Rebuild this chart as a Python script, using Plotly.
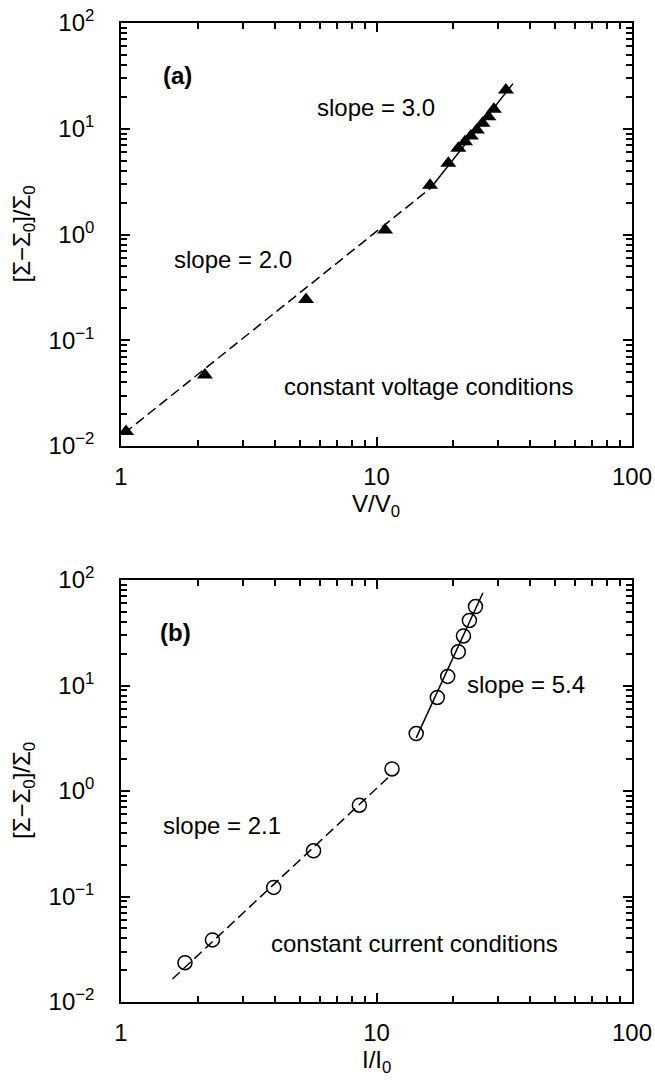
import plotly.graph_objects as go

# ---------------- data ----------------
# panel (a): constant voltage conditions
va_x = [1.046, 2.13, 5.30, 10.8, 16.2, 19.1, 20.9, 22.2, 23.4, 24.7, 26.0, 27.4, 28.8, 32.1]
va_y = [0.0137, 0.0469, 0.243, 1.10, 2.93, 4.71, 6.53, 7.54, 8.54, 9.73, 11.3, 13.0, 15.3, 23.2]
fit_a_dash_x = [1.03, 16.3]
fit_a_dash_y = [0.0132, 2.75]
fit_a_solid_x = [16.3, 34.2]
fit_a_solid_y = [2.75, 26.7]

# panel (b): constant current conditions
ic_x = [1.78, 2.28, 3.96, 5.67, 8.57, 11.5, 14.3, 17.3, 19.0, 20.9, 21.9, 23.1, 24.4]
ic_y = [0.0236, 0.0388, 0.122, 0.271, 0.734, 1.62, 3.50, 7.71, 12.2, 20.9, 29.5, 41.4, 56.0]
fit_b_dash_x = [1.59, 11.5]
fit_b_dash_y = [0.0165, 1.45]
fit_b_solid_x = [14.3, 26.1]
fit_b_solid_y = [3.19, 75.7]

x_tickvals = [1, 10, 100]
x_ticktext = ["1", "10", "100"]
y_tickvals = [0.01, 0.1, 1, 10, 100]
y_ticktext = ["10<sup>\u22122</sup>", "10<sup>\u22121</sup>", "10<sup>0</sup>",
              "10<sup>1</sup>", "10<sup>2</sup>"]

FONT = "Liberation Sans, Arial, Helvetica, sans-serif"
W, H = 655, 1080

fig = go.Figure()

# panel (a)
fig.add_trace(go.Scatter(x=fit_a_dash_x, y=fit_a_dash_y, mode="lines",
                         line=dict(color="black", width=1.5, dash="10px,5px"),
                         xaxis="x", yaxis="y", showlegend=False))
fig.add_trace(go.Scatter(x=fit_a_solid_x, y=fit_a_solid_y, mode="lines",
                         line=dict(color="black", width=1.5),
                         xaxis="x", yaxis="y", showlegend=False))
fig.add_trace(go.Scatter(x=va_x, y=va_y, mode="markers",
                         marker=dict(symbol="triangle-up", size=14, color="black"),
                         xaxis="x", yaxis="y", showlegend=False))

# panel (b)
fig.add_trace(go.Scatter(x=fit_b_dash_x, y=fit_b_dash_y, mode="lines",
                         line=dict(color="black", width=1.5, dash="10px,5px"),
                         xaxis="x2", yaxis="y2", showlegend=False))
fig.add_trace(go.Scatter(x=fit_b_solid_x, y=fit_b_solid_y, mode="lines",
                         line=dict(color="black", width=1.5),
                         xaxis="x2", yaxis="y2", showlegend=False))
fig.add_trace(go.Scatter(x=ic_x, y=ic_y, mode="markers",
                         marker=dict(symbol="circle-open", size=14, color="black",
                                     line=dict(width=1.5, color="black")),
                         xaxis="x2", yaxis="y2", showlegend=False))

def ax_common():
    return dict(type="log", showline=True, linewidth=1.6, linecolor="black",
                mirror="ticks", ticks="inside", ticklen=9, tickwidth=1.8,
                tickcolor="black", showgrid=False, zeroline=False,
                tickfont=dict(family=FONT, size=24, color="black"),
                minor=dict(ticks="inside", ticklen=6, tickwidth=1.8,
                           tickcolor="black", dtick="D1", showgrid=False),
                automargin=False, fixedrange=True, tickmode="array")

xd = [121 / W, 632 / W]
top_dom = [1 - 446 / H, 1 - 23 / H]
bot_dom = [1 - 1002 / H, 1 - 580 / H]

xa = ax_common(); xa.update(domain=xd, range=[0, 2], tickvals=x_tickvals,
                            ticktext=x_ticktext, anchor="y", ticklabelstandoff=8)
ya = ax_common(); ya.update(domain=top_dom, range=[-2, 2], tickvals=y_tickvals,
                            ticktext=y_ticktext, anchor="x", ticklabelstandoff=20)
xb = ax_common(); xb.update(domain=xd, range=[0, 2], tickvals=x_tickvals,
                            ticktext=x_ticktext, anchor="y2", ticklabelstandoff=8)
yb = ax_common(); yb.update(domain=bot_dom, range=[-2, 2], tickvals=y_tickvals,
                            ticktext=y_ticktext, anchor="x2", ticklabelstandoff=20)

ann = []
def txt(t, x, y, xref, yref, bold=False, **kw):
    d = dict(text=("<b>%s</b>" % t) if bold else t, x=x, y=y, xref=xref, yref=yref,
             showarrow=False, font=dict(family=FONT, size=24, color="black"),
             xanchor="center", yanchor="middle")
    d.update(kw)
    ann.append(d)

# panel (a) annotations (log10 data coordinates)
txt("(a)", 0.223, 1.50, "x", "y", bold=True)
txt("slope = 3.0", 0.9985, 1.20, "x", "y")
txt("slope = 2.0", 0.440, -0.236, "x", "y")
txt("constant voltage conditions", 1.2055, -1.433, "x", "y")
# panel (b)
txt("(b)", 0.214, 1.50, "x2", "y2", bold=True)
txt("slope = 5.4", 1.5845, 1.005, "x2", "y2")
txt("slope = 2.1", 0.394, -0.324, "x2", "y2")
txt("constant current conditions", 1.150, -1.443, "x2", "y2")

# axis titles
xc = (121 + 632) / 2 / W
txt("V/V<sub>0</sub>", xc, 1 - 488 / H, "paper", "paper", yanchor="top")
txt("I/I<sub>0</sub>", xc, 1 - 1044 / H, "paper", "paper", yanchor="top")
txt("[\u03a3\u2212\u03a3<sub>0</sub>]/\u03a3<sub>0</sub>", 23 / W, 1 - 234.5 / H,
    "paper", "paper", textangle=-90)
txt("[\u03a3\u2212\u03a3<sub>0</sub>]/\u03a3<sub>0</sub>", 23 / W, 1 - 791 / H,
    "paper", "paper", textangle=-90)

fig.update_layout(width=W, height=H, margin=dict(l=0, r=0, t=0, b=0),
                  paper_bgcolor="white", plot_bgcolor="white",
                  xaxis=xa, yaxis=ya, xaxis2=xb, yaxis2=yb,
                  annotations=ann, showlegend=False,
                  font=dict(family=FONT, size=24, color="black"))

fig.write_html("out.html", config={"displayModeBar": False},
               post_script="document.body.style.margin='0';"
                           "document.body.style.overflow='hidden';")
